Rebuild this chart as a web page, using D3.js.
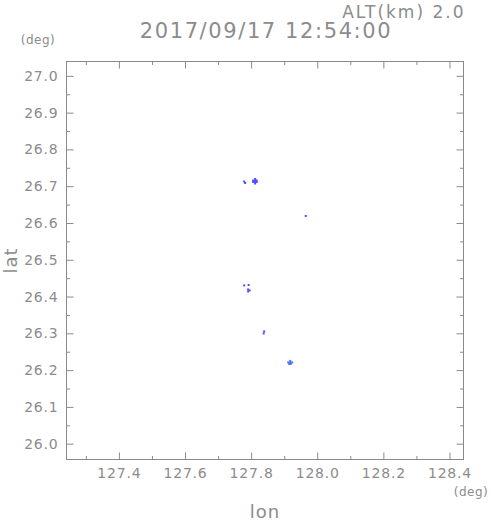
<!DOCTYPE html>
<html>
<head>
<meta charset="utf-8">
<script src="https://cdn.jsdelivr.net/npm/d3@7"></script>
<style>
  body { margin: 0; background: #fff; }
  svg text { font-family: "DejaVu Sans", sans-serif; fill: #8c8c8c; }
</style>
</head>
<body>
<svg id="chart" width="491" height="521"></svg>
<script>
// echo cells (center lon/lat) and intensity level
var cellLon = [127.7788, 127.7818,
               127.8121, 127.8061, 127.8121, 127.8167, 127.8061, 127.8121, 127.8167, 127.8121,
               127.7788, 127.7924,
               127.7909, 127.7909, 127.7955,
               127.8394, 127.8379,
               127.9182, 127.9121, 127.9182, 127.9242, 127.9152, 127.9197,
               127.9652];
var cellLat = [26.7128, 26.7087,
               26.7196, 26.7155, 26.7155, 26.7155, 26.7114, 26.7114, 26.7114, 26.7073,
               26.4302, 26.4315,
               26.4193, 26.4139, 26.4166,
               26.3052, 26.2997,
               26.2250, 26.2209, 26.2209, 26.2209, 26.2168, 26.2168,
               26.6190];
var cellLevel = [1, 1,
                 1, 1, 1, 1, 1, 1, 1, 1,
                 1, 1,
                 1, 1, 1,
                 1, 1,
                 2, 2, 2, 2, 2, 2,
                 0];
var levelColors = ["#6a3fd0", "#4b4bff", "#4a6cff"];

var lonMajor = [127.4, 127.6, 127.8, 128.0, 128.2, 128.4];
var lonMinor = [127.3, 127.5, 127.7, 127.9, 128.1, 128.3];
var latMajor = [26.0, 26.1, 26.2, 26.3, 26.4, 26.5, 26.6, 26.7, 26.8, 26.9, 27.0];
var latMinor = [26.05, 26.15, 26.25, 26.35, 26.45, 26.55, 26.65, 26.75, 26.85, 26.95];

var titleText = "2017/09/17 12:54:00";
var altText = "ALT(km) 2.0";

var plotL = 66.5, plotR = 463.5, plotT = 61.5, plotB = 459.5;
var dLon = 0.006, dLat = 0.0054;

var svg = d3.select("#chart");

var x = d3.scaleLinear().domain([127.2415, 128.4424]).range([plotL, plotR]);
var y = d3.scaleLinear().domain([25.957, 27.039]).range([plotB, plotT]);

// cells
var cells = cellLon.map((lon, i) => ({lon: lon, lat: cellLat[i], level: cellLevel[i]}));
svg.append("g")
    .selectAll("rect")
    .data(cells)
    .enter()
    .append("rect")
    .attr("x", d => x(d.lon - dLon / 2))
    .attr("y", d => y(d.lat + dLat / 2))
    .attr("width", d => x(d.lon + dLon / 2) - x(d.lon - dLon / 2))
    .attr("height", d => y(d.lat - dLat / 2) - y(d.lat + dLat / 2))
    .attr("fill", d => levelColors[d.level]);

// frame
svg.append("rect")
    .attr("x", plotL).attr("y", plotT)
    .attr("width", plotR - plotL).attr("height", plotB - plotT)
    .attr("fill", "none").attr("stroke", "#8a8a8a").attr("stroke-width", 1);

function addAxis(axisFn, scale, values, size, tr, withLabels) {
    var g = svg.append("g")
        .attr("transform", tr)
        .call(axisFn(scale).tickValues(values).tickSize(size)
            .tickFormat(withLabels ? d3.format(".1f") : ""));
    g.select(".domain").remove();
    g.selectAll("line").attr("stroke", "#8a8a8a");
    g.selectAll("text").attr("fill", null).style("font-size", "14px");
    return g;
}

// bottom
var xb = addAxis(d3.axisBottom, x, lonMajor, -7, "translate(0," + plotB + ")", true);
xb.selectAll("text").attr("y", 18).attr("dy", null).style("letter-spacing", "0.8px");
addAxis(d3.axisBottom, x, lonMinor, -3.5, "translate(0," + plotB + ")", false);
// top
addAxis(d3.axisTop, x, lonMajor, -7, "translate(0," + plotT + ")", false);
addAxis(d3.axisTop, x, lonMinor, -3.5, "translate(0," + plotT + ")", false);
// left
var yl = addAxis(d3.axisLeft, y, latMajor, -7, "translate(" + plotL + ",0)", true);
yl.selectAll("text").attr("x", -8).style("letter-spacing", "0.8px");
addAxis(d3.axisLeft, y, latMinor, -3.5, "translate(" + plotL + ",0)", false);
// right
addAxis(d3.axisRight, y, latMajor, -7, "translate(" + plotR + ",0)", false);
addAxis(d3.axisRight, y, latMinor, -3.5, "translate(" + plotR + ",0)", false);

// texts
svg.append("text")
    .attr("x", (plotL + plotR) / 2 + 1).attr("y", 38)
    .attr("text-anchor", "middle")
    .style("font-size", "21px").style("letter-spacing", "1.6px")
    .text(titleText);

svg.append("text")
    .attr("x", plotR + 2).attr("y", 18)
    .attr("text-anchor", "end")
    .style("font-size", "17px").style("letter-spacing", "2px")
    .text(altText);

svg.append("text")
    .attr("x", 38).attr("y", 44)
    .attr("text-anchor", "middle")
    .style("font-size", "12px").style("letter-spacing", "0.5px")
    .text("(deg)");

svg.append("text")
    .attr("x", 471).attr("y", 496)
    .attr("text-anchor", "middle")
    .style("font-size", "12px").style("letter-spacing", "0.5px")
    .text("(deg)");

svg.append("text")
    .attr("x", (plotL + plotR) / 2).attr("y", 518)
    .attr("text-anchor", "middle")
    .style("font-size", "18px").style("letter-spacing", "1px")
    .text("lon");

svg.append("text")
    .attr("transform", "translate(17," + ((plotT + plotB) / 2) + ") rotate(-90)")
    .attr("text-anchor", "middle")
    .style("font-size", "18px").style("letter-spacing", "1px")
    .text("lat");
</script>
</body>
</html>
